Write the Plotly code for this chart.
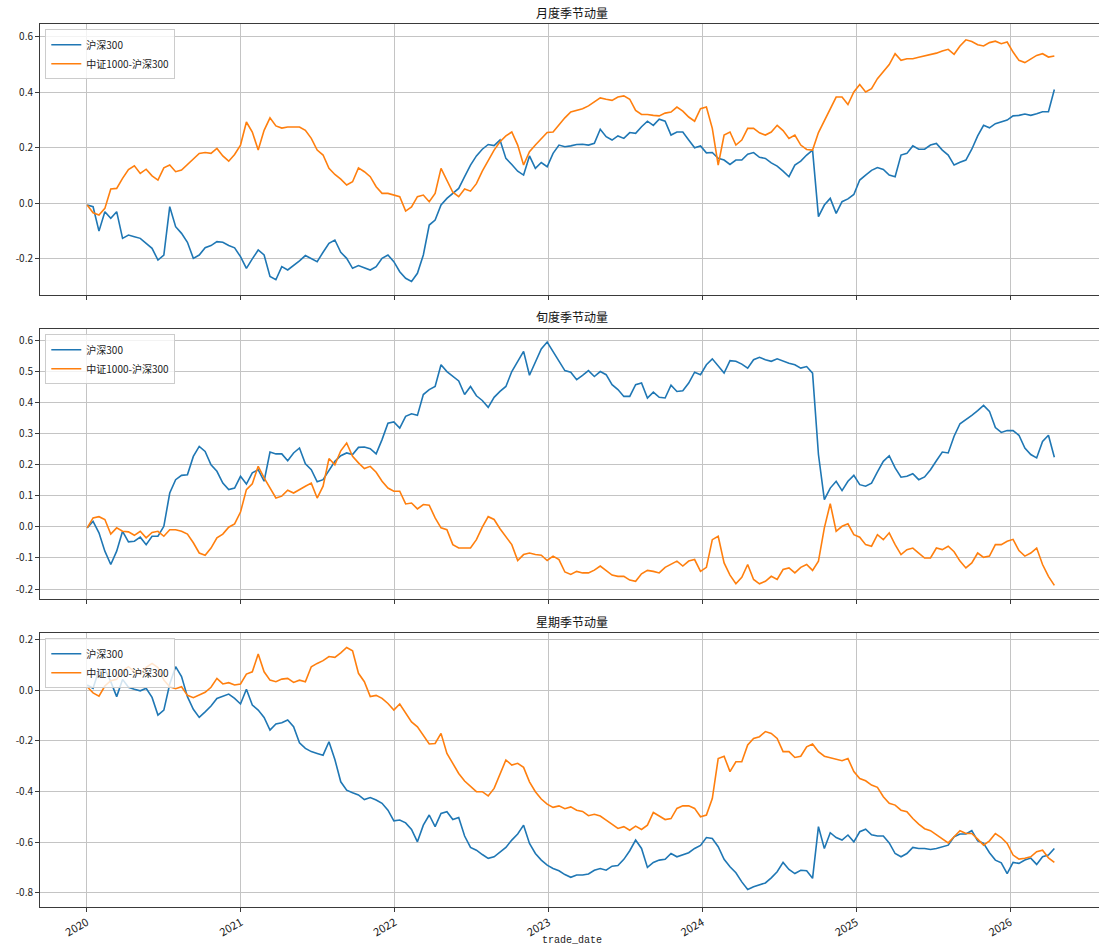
import pandas as pd
import plotly.graph_objects as go

# Sampling dates (bi-weekly trade-date snapshots)
dates = pd.date_range("2020-01-02", periods=165, freq="14D")

series_names = ["沪深300", "中证1000-沪深300"]
panel_titles = ["月度季节动量", "旬度季节动量", "星期季节动量"]

# 月度季节动量
monthly_hs300 = [
    -0.006, -0.012, -0.10, -0.03, -0.054, -0.03, -0.126, -0.114, -0.12, -0.126,
    -0.144, -0.162, -0.204, -0.186, -0.012, -0.084, -0.108, -0.14, -0.198, -0.186,
    -0.16, -0.152, -0.138, -0.14, -0.152, -0.16, -0.192, -0.234, -0.20, -0.168,
    -0.186, -0.263, -0.275, -0.228, -0.24, -0.224, -0.207, -0.188, -0.20, -0.21,
    -0.176, -0.144, -0.132, -0.176, -0.198, -0.234, -0.224, -0.231, -0.24, -0.228,
    -0.198, -0.186, -0.21, -0.246, -0.27, -0.281, -0.252, -0.186, -0.078, -0.06,
    -0.006, 0.018, 0.036, 0.054, 0.096, 0.138, 0.171, 0.195, 0.212, 0.208,
    0.228, 0.162, 0.14, 0.116, 0.102, 0.171, 0.126, 0.147, 0.132, 0.18,
    0.21, 0.204, 0.207, 0.212, 0.213, 0.21, 0.216, 0.267, 0.24, 0.228,
    0.243, 0.234, 0.255, 0.252, 0.276, 0.296, 0.281, 0.303, 0.296, 0.246,
    0.257, 0.257, 0.228, 0.20, 0.207, 0.182, 0.183, 0.162, 0.156, 0.14,
    0.156, 0.156, 0.177, 0.183, 0.166, 0.162, 0.146, 0.134, 0.116, 0.096,
    0.138, 0.152, 0.174, 0.192, -0.048, -0.006, 0.018, -0.036, 0.006, 0.016,
    0.032, 0.084, 0.102, 0.119, 0.129, 0.122, 0.102, 0.096, 0.174, 0.18,
    0.207, 0.195, 0.195, 0.21, 0.216, 0.192, 0.174, 0.138, 0.148, 0.156,
    0.195, 0.243, 0.281, 0.272, 0.287, 0.293, 0.30, 0.315, 0.317, 0.322,
    0.317, 0.323, 0.33, 0.33, 0.41,
]
monthly_zz1000 = [
    -0.006, -0.034, -0.042, -0.018, 0.052, 0.054, 0.09, 0.122, 0.135, 0.108,
    0.123, 0.099, 0.084, 0.128, 0.138, 0.114, 0.12, 0.14, 0.162, 0.18,
    0.183, 0.18, 0.198, 0.171, 0.152, 0.176, 0.21, 0.293, 0.257, 0.192,
    0.263, 0.308, 0.279, 0.271, 0.275, 0.275, 0.275, 0.263, 0.234, 0.192,
    0.174, 0.126, 0.104, 0.087, 0.066, 0.078, 0.128, 0.114, 0.096, 0.06,
    0.036, 0.036, 0.03, 0.024, -0.028, -0.013, 0.024, 0.03, 0.006, 0.036,
    0.126, 0.084, 0.04, 0.024, 0.052, 0.044, 0.071, 0.116, 0.152, 0.192,
    0.222, 0.243, 0.257, 0.21, 0.138, 0.186, 0.21, 0.231, 0.255, 0.257,
    0.284, 0.308, 0.329, 0.335, 0.341, 0.351, 0.365, 0.38, 0.375, 0.371,
    0.383, 0.387, 0.375, 0.335, 0.32, 0.32, 0.317, 0.315, 0.325, 0.329,
    0.347, 0.332, 0.311, 0.296, 0.341, 0.347, 0.27, 0.138, 0.246, 0.257,
    0.21, 0.228, 0.27, 0.27, 0.254, 0.246, 0.257, 0.281, 0.262, 0.234,
    0.246, 0.21, 0.194, 0.192, 0.255, 0.296, 0.341, 0.383, 0.383, 0.356,
    0.401, 0.428, 0.401, 0.413, 0.449, 0.473, 0.50, 0.539, 0.515, 0.521,
    0.521, 0.526, 0.531, 0.535, 0.541, 0.549, 0.555, 0.537, 0.567, 0.589,
    0.583, 0.571, 0.567, 0.579, 0.584, 0.575, 0.581, 0.545, 0.515, 0.507,
    0.521, 0.533, 0.539, 0.527, 0.531,
]

# 旬度季节动量
dekad_hs300 = [
    -0.003, 0.018, -0.019, -0.078, -0.121, -0.078, -0.014, -0.048, -0.046, -0.033,
    -0.057, -0.03, -0.03, 0.002, 0.109, 0.152, 0.166, 0.168, 0.227, 0.259,
    0.243, 0.20, 0.179, 0.141, 0.12, 0.125, 0.163, 0.138, 0.174, 0.184,
    0.147, 0.241, 0.235, 0.235, 0.213, 0.238, 0.254, 0.203, 0.184, 0.145,
    0.152, 0.181, 0.211, 0.229, 0.238, 0.233, 0.256, 0.257, 0.252, 0.235,
    0.281, 0.334, 0.338, 0.318, 0.356, 0.364, 0.359, 0.426, 0.442, 0.452,
    0.522, 0.50, 0.484, 0.47, 0.426, 0.452, 0.422, 0.407, 0.385, 0.417,
    0.436, 0.452, 0.50, 0.533, 0.565, 0.488, 0.533, 0.573, 0.595, 0.565,
    0.533, 0.503, 0.498, 0.474, 0.488, 0.503, 0.484, 0.50, 0.49, 0.458,
    0.442, 0.42, 0.42, 0.458, 0.463, 0.415, 0.434, 0.417, 0.415, 0.456,
    0.436, 0.438, 0.463, 0.498, 0.49, 0.522, 0.541, 0.517, 0.495, 0.535,
    0.533, 0.524, 0.511, 0.538, 0.546, 0.538, 0.533, 0.541, 0.533, 0.527,
    0.522, 0.511, 0.516, 0.495, 0.233, 0.088, 0.125, 0.147, 0.117, 0.147,
    0.166, 0.136, 0.131, 0.141, 0.177, 0.211, 0.229, 0.19, 0.16, 0.163,
    0.171, 0.152, 0.161, 0.184, 0.213, 0.241, 0.238, 0.292, 0.332, 0.345,
    0.359, 0.374, 0.391, 0.372, 0.32, 0.304, 0.31, 0.31, 0.295, 0.254,
    0.233, 0.222, 0.275, 0.295, 0.224,
]
dekad_zz1000 = [
    -0.003, 0.029, 0.033, 0.024, -0.023, -0.003, -0.014, -0.016, -0.027, -0.014,
    -0.035, -0.018, -0.014, -0.03, -0.009, -0.009, -0.014, -0.023, -0.051, -0.084,
    -0.091, -0.068, -0.035, -0.023, -0.001, 0.01, 0.048, 0.12, 0.139, 0.195,
    0.158, 0.123, 0.093, 0.099, 0.118, 0.109, 0.121, 0.131, 0.141, 0.093,
    0.131, 0.22, 0.20, 0.245, 0.27, 0.227, 0.206, 0.188, 0.195, 0.176,
    0.147, 0.125, 0.115, 0.115, 0.074, 0.077, 0.058, 0.072, 0.07, 0.029,
    -0.003, -0.009, -0.057, -0.068, -0.068, -0.068, -0.041, -0.001, 0.033, 0.024,
    -0.006, -0.03, -0.057, -0.108, -0.089, -0.084, -0.089, -0.091, -0.108, -0.094,
    -0.105, -0.145, -0.153, -0.143, -0.148, -0.148, -0.139, -0.126, -0.14, -0.155,
    -0.159, -0.159, -0.171, -0.175, -0.151, -0.14, -0.143, -0.148, -0.13, -0.121,
    -0.11, -0.126, -0.11, -0.105, -0.143, -0.13, -0.041, -0.03, -0.116, -0.155,
    -0.183, -0.162, -0.121, -0.169, -0.183, -0.175, -0.159, -0.169, -0.137, -0.132,
    -0.148, -0.13, -0.121, -0.14, -0.11, -0.003, 0.075, -0.014, 0.002, 0.01,
    -0.025, -0.033, -0.057, -0.062, -0.025, -0.041, -0.019, -0.057, -0.089, -0.073,
    -0.068, -0.084, -0.1, -0.1, -0.068, -0.073, -0.062, -0.08, -0.11, -0.132,
    -0.116, -0.084, -0.098, -0.094, -0.057, -0.057, -0.046, -0.04, -0.076, -0.094,
    -0.084, -0.068, -0.121, -0.159, -0.188,
]

# 星期季节动量
weekday_hs300 = [
    0.02, 0.007, 0.079, 0.082, 0.033, -0.026, 0.042, 0.011, 0.003, -0.003,
    0.007, -0.029, -0.099, -0.079, 0.024, 0.092, 0.053, -0.026, -0.076, -0.108,
    -0.086, -0.063, -0.033, -0.024, -0.016, -0.033, -0.055, 0.003, -0.059, -0.079,
    -0.108, -0.158, -0.134, -0.129, -0.118, -0.145, -0.208, -0.23, -0.243, -0.25,
    -0.257, -0.204, -0.274, -0.362, -0.395, -0.405, -0.414, -0.432, -0.424, -0.434,
    -0.447, -0.474, -0.516, -0.513, -0.524, -0.55, -0.599, -0.533, -0.493, -0.539,
    -0.487, -0.48, -0.511, -0.503, -0.576, -0.621, -0.632, -0.649, -0.664, -0.658,
    -0.639, -0.621, -0.592, -0.568, -0.533, -0.605, -0.645, -0.671, -0.691, -0.704,
    -0.713, -0.728, -0.739, -0.73, -0.73, -0.726, -0.711, -0.704, -0.711, -0.695,
    -0.692, -0.668, -0.634, -0.592, -0.625, -0.70, -0.68, -0.671, -0.668, -0.645,
    -0.658, -0.651, -0.642, -0.625, -0.613, -0.582, -0.586, -0.618, -0.668, -0.697,
    -0.721, -0.757, -0.787, -0.776, -0.767, -0.761, -0.741, -0.717, -0.68, -0.708,
    -0.724, -0.711, -0.713, -0.743, -0.539, -0.625, -0.563, -0.582, -0.592, -0.572,
    -0.599, -0.559, -0.549, -0.571, -0.576, -0.576, -0.603, -0.645, -0.658, -0.645,
    -0.621, -0.625, -0.625, -0.629, -0.625, -0.618, -0.612, -0.579, -0.568, -0.568,
    -0.555, -0.595, -0.605, -0.642, -0.671, -0.682, -0.724, -0.68, -0.684, -0.671,
    -0.663, -0.688, -0.658, -0.651, -0.625,
]
weekday_zz1000 = [
    0.013, -0.011, -0.024, 0.016, 0.037, 0.042, 0.076, 0.092, 0.072, 0.063,
    0.089, 0.105, 0.089, 0.039, 0.013, 0.005, 0.013, -0.021, -0.03, -0.021,
    -0.009, 0.011, 0.046, 0.024, 0.029, 0.02, 0.024, 0.063, 0.072, 0.142,
    0.072, 0.039, 0.033, 0.043, 0.046, 0.03, 0.039, 0.033, 0.092, 0.105,
    0.116, 0.132, 0.129, 0.147, 0.168, 0.155, 0.066, 0.033, -0.026, -0.021,
    -0.033, -0.053, -0.079, -0.055, -0.092, -0.126, -0.145, -0.178, -0.213, -0.211,
    -0.171, -0.25, -0.289, -0.329, -0.359, -0.382, -0.401, -0.401, -0.418, -0.388,
    -0.329, -0.276, -0.296, -0.289, -0.305, -0.362, -0.401, -0.43, -0.45, -0.463,
    -0.457, -0.468, -0.461, -0.474, -0.479, -0.496, -0.49, -0.497, -0.513, -0.53,
    -0.546, -0.539, -0.553, -0.537, -0.55, -0.533, -0.483, -0.497, -0.511, -0.507,
    -0.467, -0.457, -0.457, -0.467, -0.50, -0.493, -0.428, -0.27, -0.261, -0.322,
    -0.283, -0.283, -0.217, -0.191, -0.184, -0.164, -0.171, -0.191, -0.243, -0.243,
    -0.266, -0.261, -0.224, -0.213, -0.243, -0.261, -0.266, -0.274, -0.279, -0.27,
    -0.322, -0.349, -0.358, -0.375, -0.384, -0.421, -0.447, -0.454, -0.474, -0.48,
    -0.507, -0.529, -0.547, -0.555, -0.572, -0.588, -0.603, -0.579, -0.555, -0.566,
    -0.566, -0.588, -0.612, -0.595, -0.566, -0.582, -0.605, -0.651, -0.667, -0.664,
    -0.658, -0.638, -0.632, -0.662, -0.68,
]

# y tick values per panel
yticks_monthly = [-0.2, 0.0, 0.2, 0.4, 0.6]
yticks_dekad = [-0.2, -0.1, 0.0, 0.1, 0.2, 0.3, 0.4, 0.5, 0.6]
yticks_weekday = [-0.8, -0.6, -0.4, -0.2, 0.0, 0.2]

COLORS = ["#1f77b4", "#ff7f0e"]
FONT = "Noto Sans CJK SC"

panels = [
    (monthly_hs300, monthly_zz1000, yticks_monthly, [-0.330, 0.646], [0.6931, 1.0]),
    (dekad_hs300, dekad_zz1000, yticks_dekad, [-0.232, 0.637], [0.3488, 0.6546]),
    (weekday_hs300, weekday_zz1000, yticks_weekday, [-0.856, 0.225], [0.0, 0.3103]),
]

fig = go.Figure()
layout = {}
annotations = []

for i, (s1, s2, yt, yr, dom) in enumerate(panels, start=1):
    sfx = "" if i == 1 else str(i)
    legend_id = "legend" if i == 1 else f"legend{i}"
    for name, vals, col in zip(series_names, [s1, s2], COLORS):
        fig.add_trace(go.Scatter(
            x=dates, y=vals, mode="lines", name=name,
            line=dict(color=col, width=1.6),
            xaxis=f"x{sfx}", yaxis=f"y{sfx}", legend=legend_id,
        ))

    layout[f"xaxis{sfx}"] = dict(
        type="date", range=["2019-09-12", "2026-07-31"],
        tick0="2020-01-01", dtick="M12", tickformat="%Y",
        showticklabels=(i == 3), tickangle=-30,
        showgrid=True, gridcolor="#c4c4c4", gridwidth=1,
        showline=True, linecolor="#3a3a3a", linewidth=1, mirror=True,
        ticks="outside", ticklen=4, tickcolor="#3a3a3a",
        zeroline=False, anchor=f"y{sfx}",
        matches=None if i == 1 else "x",
        tickfont=dict(family=FONT, size=11, color="#222"),
    )
    layout[f"yaxis{sfx}"] = dict(
        domain=dom, range=yr,
        tickvals=yt, ticktext=[f"{v:.1f}" for v in yt],
        showgrid=True, gridcolor="#c4c4c4", gridwidth=1,
        showline=True, linecolor="#3a3a3a", linewidth=1, mirror=False,
        ticks="outside", ticklen=4, tickcolor="#3a3a3a",
        zeroline=False, anchor=f"x{sfx}",
        tickfont=dict(family=FONT, size=10, color="#222"),
    )
    layout[legend_id] = dict(
        x=0.005, xanchor="left", y=dom[1] - 0.006, yanchor="top",
        bgcolor="rgba(255,255,255,0.8)", bordercolor="#cccccc", borderwidth=1,
        font=dict(family=FONT, size=10, color="#222"),
        tracegroupgap=0, itemwidth=30,
    )
    annotations.append(dict(
        text=panel_titles[i - 1], xref="paper", yref="paper",
        x=0.5024, y=dom[1], yshift=12, xanchor="center", yanchor="middle",
        showarrow=False, font=dict(family=FONT, size=12, color="#111"),
    ))

annotations.append(dict(
    text="trade_date", xref="paper", yref="paper",
    x=0.5024, y=-0.0374, xanchor="center", yanchor="middle",
    showarrow=False, font=dict(family="Liberation Mono", size=10, color="#222"),
))

fig.update_layout(
    **layout,
    annotations=annotations,
    width=1099, height=948,
    margin=dict(l=40, r=0, t=24, b=41),
    paper_bgcolor="white", plot_bgcolor="white",
    showlegend=True,
    font=dict(family=FONT, size=10),
)

fig.write_html("out.html")
